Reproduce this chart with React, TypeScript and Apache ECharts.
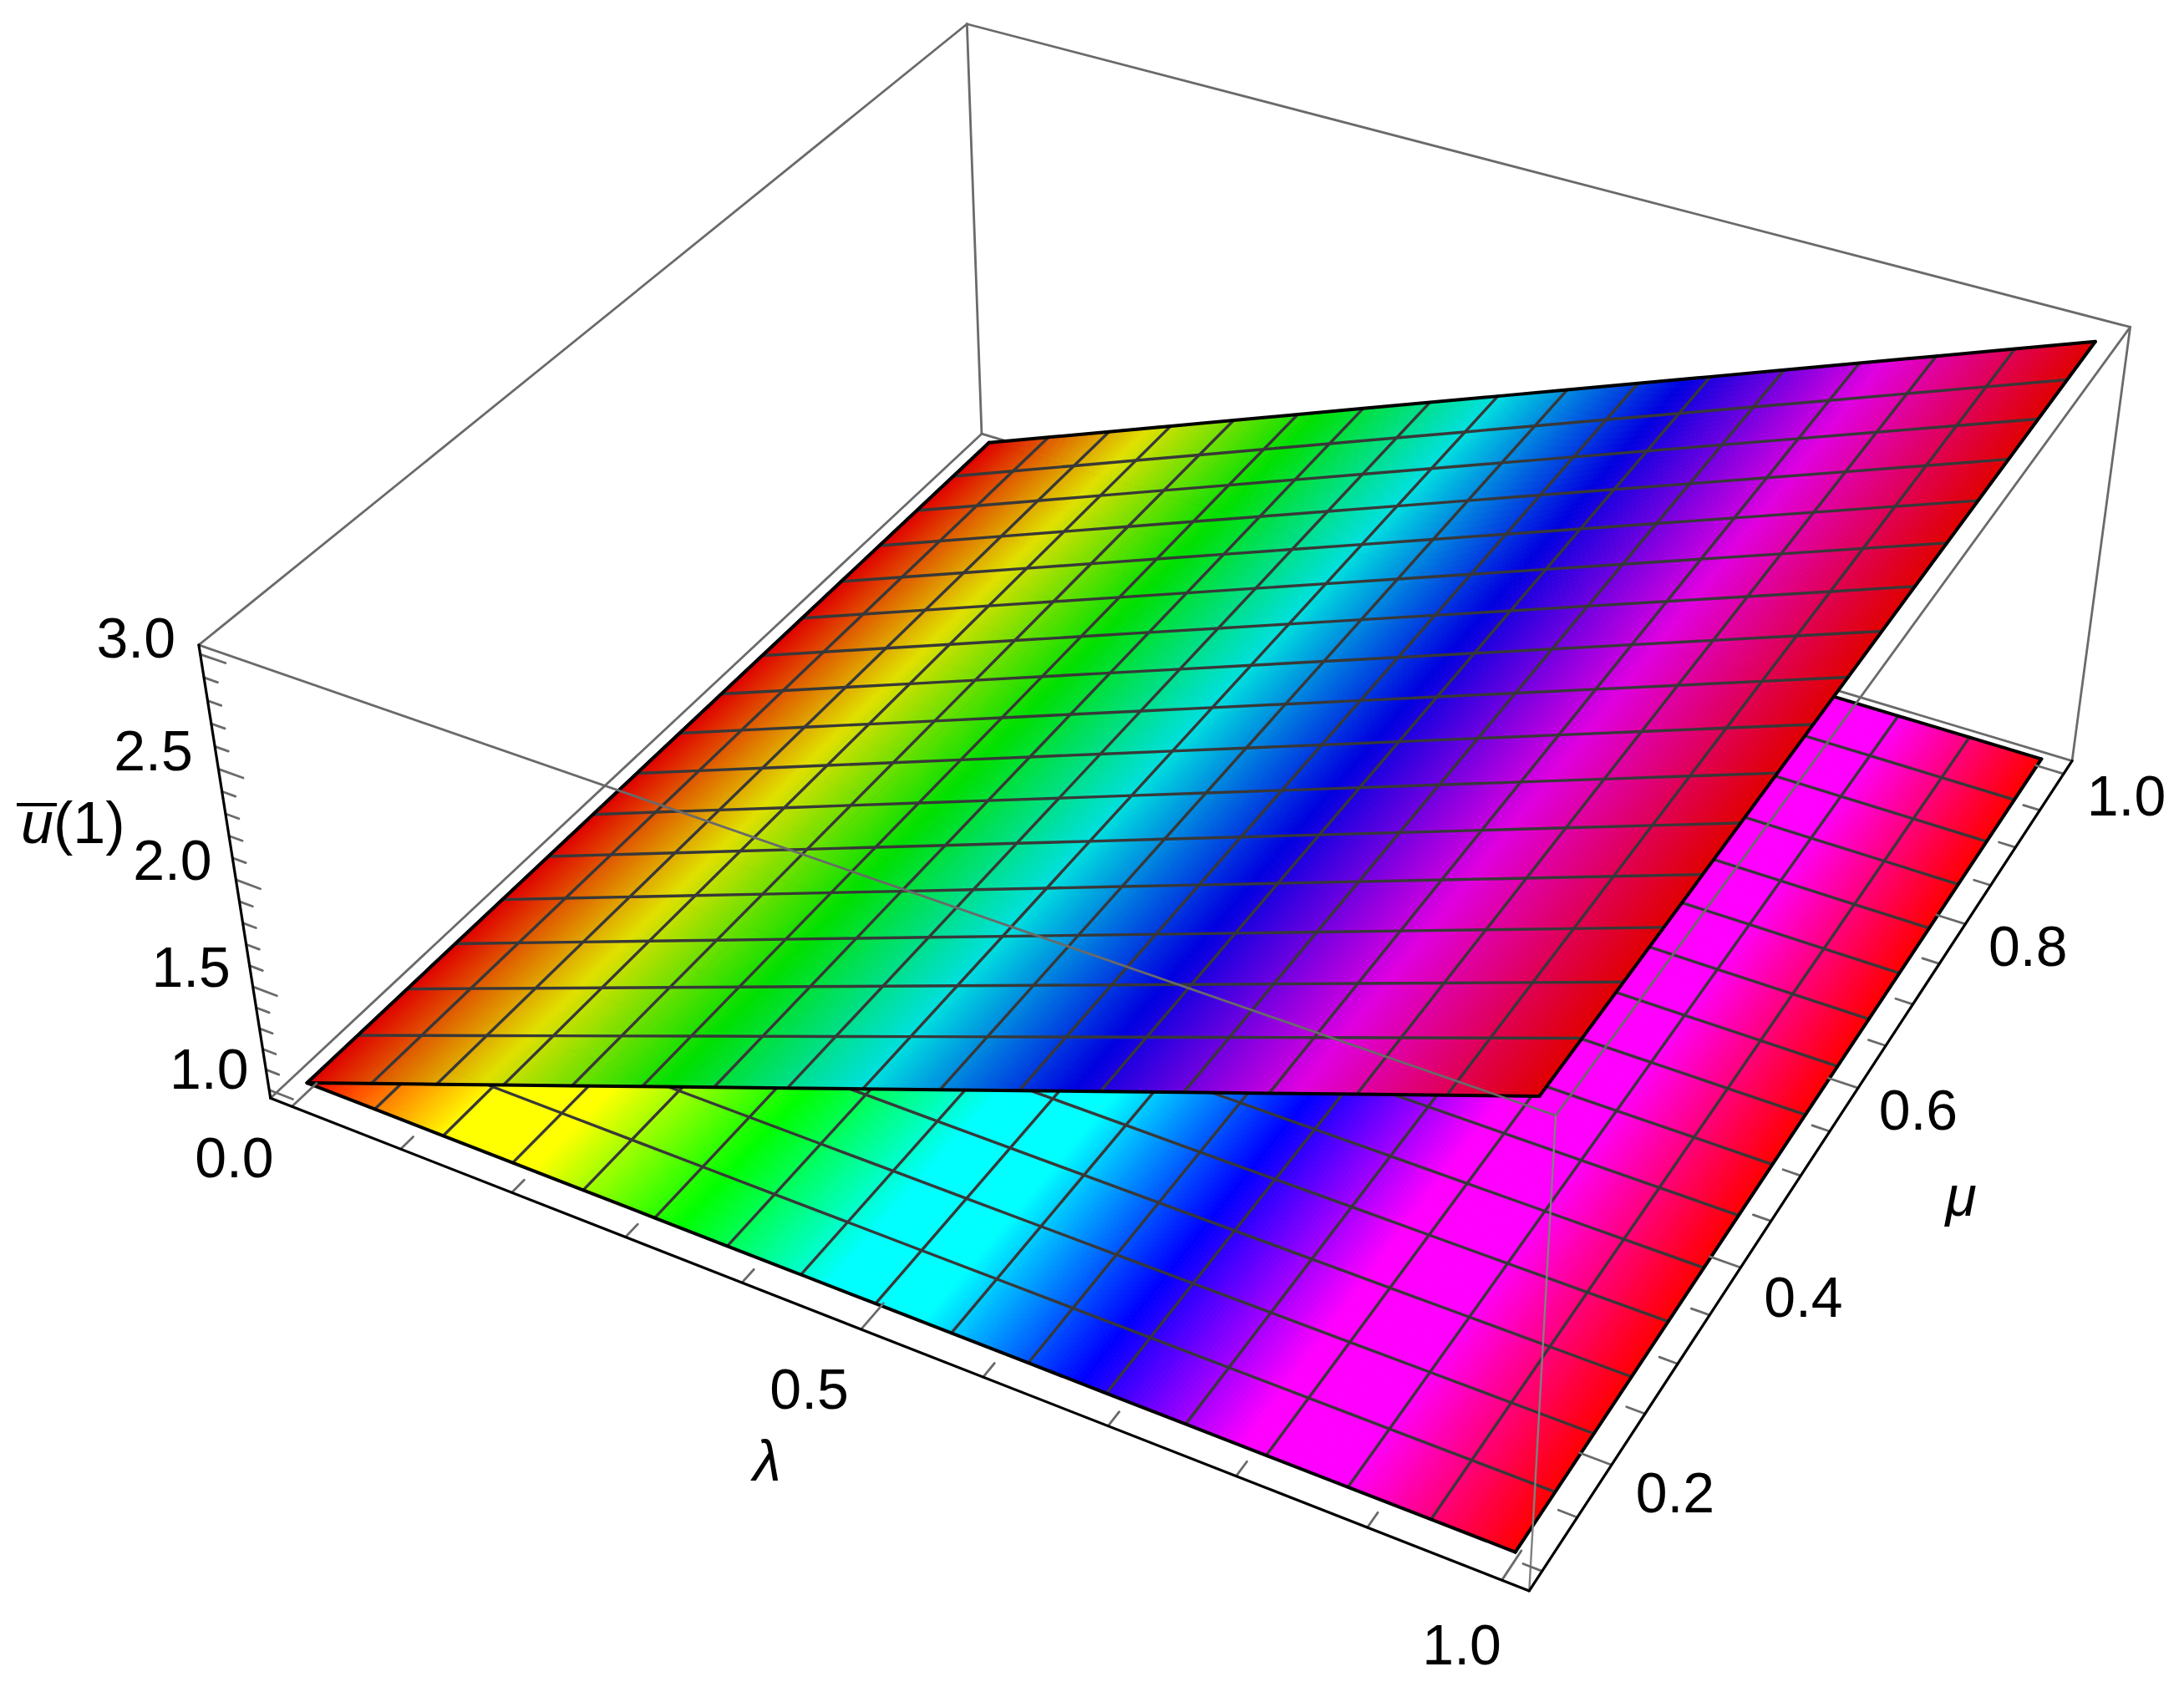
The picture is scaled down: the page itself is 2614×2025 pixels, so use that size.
import React, { useEffect, useRef } from "react";
import * as echarts from "echarts";

// ---- data ----
const lambdaMesh = [0, 0.0625, 0.125, 0.1875, 0.25, 0.3125, 0.375, 0.4375, 0.5, 0.5625, 0.625, 0.6875, 0.75, 0.8125, 0.875, 0.9375, 1];
const muMesh = [0.1, 0.15625, 0.2125, 0.26875, 0.325, 0.38125, 0.4375, 0.49375, 0.55, 0.60625, 0.6625, 0.71875, 0.775, 0.83125, 0.8875, 0.94375, 1];
const lowerValues = [1, 1, 1, 1, 1, 1, 1, 1, 1, 1, 1, 1, 1, 1, 1, 1, 1];
const upperAtMuMin = [1, 1.125, 1.25, 1.375, 1.5, 1.625, 1.75, 1.875, 2, 2.125, 2.25, 2.375, 2.5, 2.625, 2.75, 2.875, 3];
const upperAtMuMax = [1, 1.125, 1.25, 1.375, 1.5, 1.625, 1.75, 1.875, 2, 2.125, 2.25, 2.375, 2.5, 2.625, 2.75, 2.875, 3];
const lambdaTicks = [0, 0.1, 0.2, 0.3, 0.4, 0.5, 0.6, 0.7, 0.8, 0.9, 1];
const muTicks = [0.1, 0.15, 0.2, 0.25, 0.3, 0.35, 0.4, 0.45, 0.5, 0.55, 0.6, 0.65, 0.7, 0.75, 0.8, 0.85, 0.9, 0.95, 1];
const zTicks = [1, 1.1, 1.2, 1.3, 1.4, 1.5, 1.6, 1.7, 1.8, 1.9, 2, 2.1, 2.2, 2.3, 2.4, 2.5, 2.6, 2.7, 2.8, 2.9, 3];
const lambdaLabels = [0, 0.5, 1];
const muLabels = [0.2, 0.4, 0.6, 0.8, 1];
const zLabels = [1, 1.5, 2, 2.5, 3];

// box limits (plot range with its padding)
const L0 = -0.02, L1 = 1.02, M0 = 0.082, M1 = 1.018, Z0 = 0.96, Z1 = 3.04;

// camera calibration: box corner -> page position
const calib: [number, number, number, number, number][] = [
  [L0, M0, Z0, 324, 1315], [L1, M0, Z0, 1830, 1904], [L1, M1, Z0, 2480, 910], [L0, M1, Z0, 1175, 519],
  [L0, M0, Z1, 238, 771], [L1, M0, Z1, 1862, 1335], [L1, M1, Z1, 2550, 392], [L0, M1, Z1, 1157, 29],
];

function fitCamera() {
  const n = 11;
  const A = Array.from({ length: n }, () => new Array(n + 1).fill(0));
  const add = (r: number[], b: number) => {
    for (let i = 0; i < n; i++) {
      for (let j = 0; j < n; j++) A[i][j] += r[i] * r[j];
      A[i][n] += r[i] * b;
    }
  };
  for (const [x, y, z, u, v] of calib) {
    add([x, y, z, 1, 0, 0, 0, 0, -u * x, -u * y, -u * z], u);
    add([0, 0, 0, 0, x, y, z, 1, -v * x, -v * y, -v * z], v);
  }
  for (let c = 0; c < n; c++) {
    let p = c;
    for (let r = c + 1; r < n; r++) if (Math.abs(A[r][c]) > Math.abs(A[p][c])) p = r;
    [A[c], A[p]] = [A[p], A[c]];
    for (let r = 0; r < n; r++) {
      if (r === c) continue;
      const f = A[r][c] / A[c][c];
      for (let k = c; k <= n; k++) A[r][k] -= f * A[c][k];
    }
  }
  return A.map((row, i) => row[n] / row[i]);
}
const cam = fitCamera();
function project(x: number, y: number, z: number): [number, number] {
  const w = cam[8] * x + cam[9] * y + cam[10] * z + 1;
  return [
    (cam[0] * x + cam[1] * y + cam[2] * z + cam[3]) / w,
    (cam[4] * x + cam[5] * y + cam[6] * z + cam[7]) / w,
  ];
}

function hueRgb(h: number): [number, number, number] {
  const s = ((h % 1) + 1) % 1;
  const f = (o: number) => Math.max(0, Math.min(1, Math.abs(((s * 6 + o) % 6) - 3) - 1));
  return [f(0), f(4), f(2)];
}
function shade(h: number, k: number) {
  const [r, g, b] = hueRgb(h);
  const c = (v: number) => Math.round(Math.min(1, v * k) * 255);
  return `rgb(${c(r)},${c(g)},${c(b)})`;
}

const SUB = 20;
function stripsOf(atMin: number[], atMax: number[]) {
  const out: number[][] = [];
  for (let i = 0; i < lambdaMesh.length - 1; i++) {
    for (let s = 0; s < SUB; s++) {
      const a = s / SUB, b = (s + 1) / SUB;
      const la = lambdaMesh[i] + (lambdaMesh[i + 1] - lambdaMesh[i]) * a;
      const lb = lambdaMesh[i] + (lambdaMesh[i + 1] - lambdaMesh[i]) * b;
      const ia = (v: number[]) => v[i] + (v[i + 1] - v[i]) * a;
      const ib = (v: number[]) => v[i] + (v[i + 1] - v[i]) * b;
      out.push([la, lb, ia(atMin), ia(atMax), ib(atMin), ib(atMax)]);
    }
  }
  return out;
}

const meshItems: number[][] = [];
for (let i = 0; i < lambdaMesh.length; i++) {
  meshItems.push([0, i]);
  meshItems.push([1, i]);
}
meshItems.sort((a, b) => {
  const ea = a[1] === 0 || a[1] === 16 ? 1 : 0;
  const eb = b[1] === 0 || b[1] === 16 ? 1 : 0;
  return ea - eb;
});

function stripSeries(atMin: number[], atMax: number[], k: number) {
  return {
    type: "custom",
    coordinateSystem: "cartesian2d",
    silent: true,
    clip: false,
    data: stripsOf(atMin, atMax),
    renderItem: (_: any, api: any) => {
      const la = api.value(0), lb = api.value(1);
      const pts = [
        project(la, muMesh[0], api.value(2)),
        project(lb, muMesh[0], api.value(4)),
        project(lb, muMesh[16], api.value(5)),
        project(la, muMesh[16], api.value(3)),
      ].map((p) => api.coord(p));
      const col = shade((la + lb) / 2, k);
      return { type: "polygon", shape: { points: pts }, style: { fill: col, stroke: col, lineWidth: 1 } };
    },
  };
}

function meshSeries(atMin: number[], atMax: number[]) {
  return {
    type: "custom",
    coordinateSystem: "cartesian2d",
    silent: true,
    clip: false,
    data: meshItems,
    renderItem: (_: any, api: any) => {
      const axis = api.value(0), idx = api.value(1);
      const edge = idx === 0 || idx === 16;
      const pts: number[][] = [];
      if (axis === 0) {
        pts.push(project(lambdaMesh[idx], muMesh[0], atMin[idx]));
        pts.push(project(lambdaMesh[idx], muMesh[16], atMax[idx]));
      } else {
        const t = (muMesh[idx] - muMesh[0]) / (muMesh[16] - muMesh[0]);
        for (let i = 0; i < lambdaMesh.length; i++) {
          pts.push(project(lambdaMesh[i], muMesh[idx], atMin[i] + (atMax[i] - atMin[i]) * t));
        }
      }
      return {
        type: "polyline",
        shape: { points: pts.map((p) => api.coord(p)) },
        style: { fill: "none", stroke: edge ? "#000" : "#383838", lineWidth: edge ? 4 : 3.4, lineCap: "round" },
      };
    },
  };
}

// [x1,y1,z1,x2,y2,z2, colourIndex, width]
const COLORS = ["#6a6a6a", "#000000", "#808080"];
function lineSeries(items: number[][]) {
  return {
    type: "custom",
    coordinateSystem: "cartesian2d",
    silent: true,
    clip: false,
    data: items,
    renderItem: (_: any, api: any) => {
      const a = api.coord(project(api.value(0), api.value(1), api.value(2)));
      const b = api.coord(project(api.value(3), api.value(4), api.value(5)));
      return {
        type: "line",
        shape: { x1: a[0], y1: a[1], x2: b[0], y2: b[1] },
        style: { stroke: COLORS[api.value(6)], lineWidth: api.value(7), lineCap: "round" },
      };
    },
  };
}

const backLines = [
  [L0, M0, Z0, L0, M1, Z0, 0, 2.8],
  [L0, M1, Z0, L1, M1, Z0, 0, 2.8],
  [L0, M1, Z0, L0, M1, Z1, 0, 2.8],
  [L0, M0, Z1, L0, M1, Z1, 0, 2.8],
  [L0, M1, Z1, L1, M1, Z1, 0, 2.8],
  [L1, M1, Z1, L1, M1, Z0, 0, 2.8],
];
const frontLines: number[][] = [
  [L0, M0, Z1, L1, M0, Z1, 0, 2.8],
  [L1, M0, Z1, L1, M1, Z1, 0, 2.8],
  [L1, M0, Z0, L1, M0, Z1, 2, 2.4],
];
for (const t of lambdaTicks) {
  const major = lambdaLabels.includes(t);
  frontLines.push([t, M0, Z0, t, M0 + (major ? 0.027 : 0.014), Z0, 0, 2.8]);
}
for (const t of muTicks) {
  const major = muLabels.includes(t);
  frontLines.push([L1, t, Z0, L1 - (major ? 0.024 : 0.014), t, Z0, 0, 2.8]);
}
for (const t of zTicks) {
  const major = zLabels.includes(t);
  frontLines.push([L0, M0, t, L0 + (major ? 0.022 : 0.012), M0, t, 0, 2.8]);
}
frontLines.push([L0, M0, Z0, L0, M0, Z1, 1, 3.2]);
frontLines.push([L0, M0, Z0, L1, M0, Z0, 1, 3.2]);
frontLines.push([L1, M0, Z0, L1, M1, Z0, 1, 3.2]);

const FONT = "'Liberation Sans', Arial, sans-serif";
// label anchor = projected tick + screen offset
const labelItems: { text: string; at: [number, number, number]; off: [number, number] }[] = [
  ...zLabels.map((v, i) => ({
    text: v.toFixed(1),
    at: [L0, M0, v] as [number, number, number],
    off: [[-72, -26], [-74, -24], [-76, -24], [-78, -22], [-77, -20]][i] as [number, number],
  })),
  ...lambdaLabels.map((v, i) => ({
    text: v.toFixed(1),
    at: [v, M0, Z0] as [number, number, number],
    off: [[-69, 61], [-62, 71], [-48, 77]][i] as [number, number],
  })),
  ...muLabels.map((v, i) => ({
    text: v.toFixed(1),
    at: [L1, v, Z0] as [number, number, number],
    off: [[76, 33], [75, 35], [72, 26], [75, 26], [75, 26]][i] as [number, number],
  })),
];
const labelData = labelItems.map((_, i) => [i]);

const labelSeries = {
  type: "custom",
  coordinateSystem: "cartesian2d",
  silent: true,
  clip: false,
  data: labelData,
  renderItem: (_: any, api: any) => {
    const it = labelItems[api.value(0)];
    const p = api.coord(project(it.at[0], it.at[1], it.at[2]));
    return {
      type: "text",
      x: p[0] + it.off[0],
      y: p[1] + it.off[1],
      style: {
        text: it.text,
        fill: "#000",
        fontFamily: FONT,
        fontSize: 68,
        align: "center",
        verticalAlign: "middle",
        textAlign: "center",
        textVerticalAlign: "middle",
      },
    };
  },
};

export default function App() {
  const ref = useRef<HTMLDivElement>(null);
  useEffect(() => {
    document.body.style.margin = "0";
    const chart = echarts.init(ref.current!, undefined, { renderer: "svg" });
    chart.setOption({
      animation: false,
      backgroundColor: "#fff",
      grid: { left: 0, top: 0, right: 0, bottom: 0 },
      xAxis: { type: "value", min: 0, max: 2614, show: false },
      yAxis: { type: "value", min: 0, max: 2025, inverse: true, show: false },
      series: [
        lineSeries(backLines),
        stripSeries(lowerValues, lowerValues, 1.3),
        meshSeries(lowerValues, lowerValues),
        stripSeries(upperAtMuMin, upperAtMuMax, 0.88),
        meshSeries(upperAtMuMin, upperAtMuMax),
        lineSeries(frontLines),
        labelSeries,
      ],
      graphic: [
        {
          type: "text", x: 918, y: 1748,
          style: { text: "λ", fill: "#000", font: `italic 68px ${FONT}`, align: "center", verticalAlign: "middle", textAlign: "center", textVerticalAlign: "middle" },
        },
        {
          type: "text", x: 2347, y: 1431,
          style: { text: "μ", fill: "#000", font: `italic 68px ${FONT}`, align: "center", verticalAlign: "middle", textAlign: "center", textVerticalAlign: "middle" },
        },
        {
          type: "text", x: 25, y: 985,
          style: { text: "u", fill: "#000", font: `italic 70px ${FONT}`, align: "left", verticalAlign: "middle", textAlign: "left", textVerticalAlign: "middle" },
        },
        {
          type: "text", x: 64, y: 985,
          style: { text: "(1)", fill: "#000", font: `70px ${FONT}`, align: "left", verticalAlign: "middle", textAlign: "left", textVerticalAlign: "middle" },
        },
        { type: "rect", shape: { x: 20, y: 961, width: 48, height: 4 }, style: { fill: "#000" } },
      ],
    });
    return () => chart.dispose();
  }, []);
  return <div ref={ref} style={{ width: 2614, height: 2025 }} />;
}
